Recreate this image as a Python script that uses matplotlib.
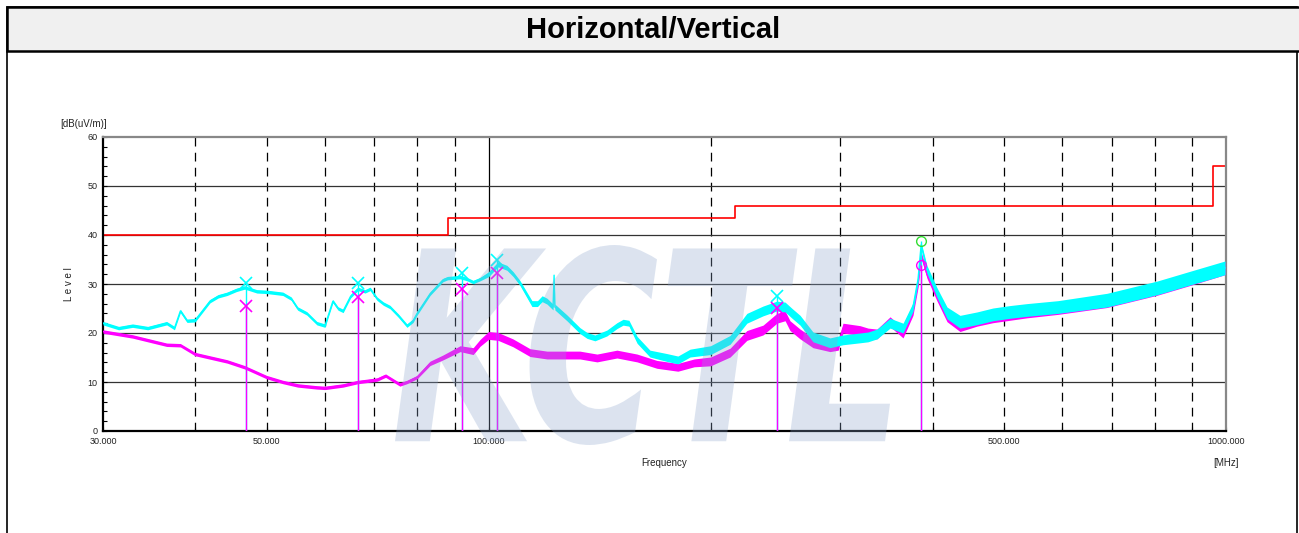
import numpy as np
import matplotlib
matplotlib.use("Agg")
import matplotlib.pyplot as plt
from matplotlib.patches import Rectangle, PathPatch
from matplotlib.textpath import TextPath
from matplotlib.font_manager import FontProperties
from matplotlib.transforms import Affine2D
from matplotlib.ticker import FixedLocator, NullFormatter

W, H = 1299, 533

# limit line
limit_freq = [30, 88, 216, 960, 1000]
limit_level = [40, 43.5, 46, 54, 54]

# cyan trace: frequency [MHz], level [dB(uV/m)], half width of noise band
cyan_freq = [30, 31.5, 32.9, 34.5, 36.6, 37.5, 38.2, 39, 40, 41.9, 43, 44.2, 45.5, 46.7, 48.5,
             50, 52.6, 54, 55.1, 56.7, 58.5, 60, 61.5, 62.5, 63.5, 65, 66.5, 68, 69.1, 70.6,
             72, 73.5, 75.5, 77.5, 79, 80, 83.3, 86.7, 88, 91.5, 93.5, 95.3, 97.4, 100, 103,
             105.9, 108, 110.3, 114.5, 116.5, 118.2, 120, 122.3, 122.7, 123.0, 127.7, 133, 136,
             139.4, 144.7, 149.3, 152.2, 155, 159, 165.5, 174.5, 180.6, 187.6, 200, 212.6, 224,
             235.6, 246, 252.4, 258, 264.5, 275.4, 290.4, 302.4, 318.9, 327, 336.3, 350.3,
             364.8, 376.3, 382.3, 386, 393, 405.7, 418.5, 435.8, 459.6, 483, 509.5, 537.3,
             591.8, 689.7, 806.5, 894, 997]
cyan_level = [22.0, 21.0, 21.5, 21.0, 22.0, 21.0, 24.5, 22.5, 22.6, 26.5, 27.5, 28.0, 28.8, 29.3, 28.5,
              28.4, 28.0, 27.0, 25.0, 24.0, 22.0, 21.5, 26.5, 25.0, 24.5, 27.5, 29.0, 28.5, 29.0, 27.0,
              26.0, 25.3, 23.5, 21.5, 22.5, 24.0, 28.0, 30.8, 31.2, 31.4, 31.0, 30.4, 31.0, 32.0, 34.0,
              33.3, 32.0, 30.2, 26.0, 26.0, 27.0, 26.5, 25.3, 31.8, 25.3, 23.1, 20.5, 19.5,
              19.0, 20.0, 21.5, 22.2, 22.0, 18.6, 15.8, 15.0, 14.5, 15.9, 16.5, 18.6, 23.0,
              24.5, 25.5, 25.3, 24.0, 22.6, 19.2, 18.0, 18.6, 19.0, 19.2, 19.8, 22.0,
              21.0, 25.3, 31.0, 38.0, 33.0, 28.2, 24.1, 22.3, 23.0, 23.8, 24.3, 24.7,
              25.3, 26.7, 29.2, 31.2, 33.3]
cyan_noise = [0.35, 0.35, 0.35, 0.35, 0.35, 0.35, 0.35, 0.35, 0.35, 0.35, 0.35, 0.35, 0.35, 0.35, 0.35,
              0.35, 0.35, 0.35, 0.35, 0.35, 0.35, 0.35, 0.35, 0.35, 0.35, 0.35, 0.35, 0.35, 0.35, 0.35,
              0.35, 0.35, 0.35, 0.35, 0.35, 0.35, 0.35, 0.35, 0.35, 0.35, 0.35, 0.35, 0.35, 0.5, 0.5,
              0.5, 0.5, 0.5, 0.6, 0.6, 0.6, 0.6, 0.6, 0.15, 0.6, 0.6, 0.6, 0.6,
              0.6, 0.6, 0.6, 0.6, 0.6, 0.7, 0.7, 0.8, 0.8, 0.8, 0.9, 0.9, 1.0,
              1.0, 1.0, 1.0, 1.0, 1.0, 1.0, 1.0, 1.0, 1.0, 1.0, 1.0, 1.0,
              1.0, 0.9, 0.7, 0.5, 0.8, 1.0, 1.2, 1.3, 1.3, 1.3, 1.3, 1.3,
              1.3, 1.4, 1.4, 1.4, 1.4]

# magenta trace
mag_freq = [30, 32.9, 36.6, 38.2, 40, 41.9, 44.2, 46.7, 50, 52.6, 55.1, 58.5, 60, 63.5, 66.5,
            70.6, 72.5, 75.8, 77.5, 80, 83.3, 86.7, 91.5, 95.3, 97.4, 100, 103, 107.9, 113.8,
            120, 126.1, 133, 140.3, 149.3, 159, 169.1, 180.6, 190, 200, 212.6, 224, 235.6, 246,
            252.4, 256.3, 264.5, 275.4, 290.4, 298, 302.4, 318.9, 327, 336.3, 350.3, 364.8,
            376.3, 382.3, 386, 393, 405.7, 418.5, 435.8, 459.6, 483, 509.5, 537.3, 591.8,
            689.7, 806.5, 894, 997]
mag_level = [20.3, 19.3, 17.6, 17.5, 15.7, 15.0, 14.2, 13.0, 11.0, 10.0, 9.3, 8.9, 8.8, 9.3, 10.0,
             10.5, 11.3, 9.5, 10.0, 11.0, 13.8, 15.0, 16.8, 16.3, 18.0, 19.5, 19.3, 18.0, 16.0,
             15.5, 15.5, 15.5, 14.9, 15.7, 14.9, 13.6, 13.0, 13.9, 14.2, 16.0, 19.5, 20.6, 23.0,
             23.5, 21.5, 19.8, 18.0, 17.2, 17.5, 21.0, 20.5, 20.0, 19.8, 22.3, 20.0,
             24.5, 30.0, 36.0, 32.0, 27.5, 23.5, 21.5, 22.6, 23.3, 23.8, 24.3, 25.0,
             26.5, 29.0, 31.0, 33.2]
mag_noise = [0.35, 0.35, 0.35, 0.35, 0.35, 0.35, 0.35, 0.35, 0.35, 0.35, 0.35, 0.35, 0.35, 0.35, 0.35,
             0.35, 0.35, 0.35, 0.35, 0.35, 0.45, 0.5, 0.6, 0.7, 0.7, 0.8, 0.8, 0.8, 0.8,
             0.8, 0.8, 0.8, 0.8, 0.8, 0.8, 0.8, 0.8, 0.8, 0.9, 0.9, 1.0, 1.0, 1.0,
             1.0, 1.0, 1.0, 1.0, 1.0, 1.0, 1.0, 1.0, 1.0, 1.0, 1.0, 1.0,
             0.9, 0.7, 0.5, 0.8, 1.0, 1.2, 1.2, 1.2, 1.2, 1.2, 1.2, 1.2,
             1.3, 1.3, 1.3, 1.3]

# peak markers
mark_freq = [46.9, 66.5, 92.0, 102.6, 246.0]
mark_cyan = [30.2, 30.2, 32.2, 34.9, 27.6]
mark_mag = [25.5, 27.3, 29.0, 32.2, 25.1]
peak_freq = 386.0
peak_cyan = 38.8
peak_mag = 33.9

xtick_vals = [30, 50, 100, 500, 1000]
xtick_labels = ["30.000", "50.000", "100.000", "500.000", "1000.000"]
dashed_grid = [40, 50, 60, 70, 80, 90, 200, 300, 400, 500, 600, 700, 800, 900]

CYAN = "#00ffff"
MAG = "#ff00ff"

fig = plt.figure(figsize=(W / 100, H / 100), dpi=100)
fig.patch.set_facecolor("white")

# outer frame and title bar
fig.add_artist(Rectangle((7 / W, -0.05), (1297 - 7) / W, 1.05 - 7 / H,
                         transform=fig.transFigure, fill=False, ec="black", lw=1.2))
fig.add_artist(Rectangle((7 / W, (H - 51) / H), 1.1, 44 / H, transform=fig.transFigure,
                         fc="#f0f0f0", ec="black", lw=1.8))
fig.text(653 / W, (H - 30) / H, "Horizontal/Vertical", ha="center", va="center",
         fontsize=21, fontweight="bold", family="Liberation Sans")

ax = fig.add_axes([103 / W, (H - 431) / H, (1226 - 103) / W, (431 - 137) / H])
ax.set_xscale("log")
ax.set_xlim(30, 1000)
ax.set_ylim(0, 60)

for f in dashed_grid:
    ax.axvline(f, color="black", lw=0.9, dashes=(7, 5), zorder=1)
ax.axvline(100, color="black", lw=0.9, zorder=1)
for lv in range(10, 60, 10):
    ax.axhline(lv, color="#333333", lw=0.9, zorder=1)

ax.step(limit_freq, limit_level, where="post", color="red", lw=1.2, zorder=2)


def draw_trace(freq, level, noise, color, z):
    f = np.array(freq)
    lv = np.array(level)
    n = np.array(noise)
    ax.fill_between(f, lv - n, lv + n, color=color, lw=0, zorder=z)
    ax.plot(f, lv, color=color, lw=1.0, zorder=z)


draw_trace(mag_freq, mag_level, mag_noise, MAG, 3)
draw_trace(cyan_freq, cyan_level, cyan_noise, CYAN, 4)

# markers
ax.vlines(mark_freq, 0, mark_cyan, color=CYAN, lw=1, zorder=5)
ax.vlines(mark_freq, 0, mark_mag, color=MAG, lw=1, zorder=6)
ax.vlines([peak_freq], 0, [peak_cyan], color=CYAN, lw=1, zorder=5)
ax.vlines([peak_freq], 0, [peak_mag], color=MAG, lw=1, zorder=6)
ax.plot(mark_freq, mark_cyan, "x", color=CYAN, ms=8, mew=1.2, zorder=7)
ax.plot(mark_freq, mark_mag, "x", color=MAG, ms=8, mew=1.2, zorder=7)
ax.plot([peak_freq], [peak_cyan], "o", mfc="none", mec="#33dd33", ms=7, mew=1, zorder=7)
ax.plot([peak_freq], [peak_mag], "o", mfc="none", mec=MAG, ms=7, mew=1, zorder=7)

# axes styling
for s in ["left", "bottom"]:
    ax.spines[s].set_color("black")
    ax.spines[s].set_linewidth(1.6)
for s in ["top", "right"]:
    ax.spines[s].set_color("#888888")
    ax.spines[s].set_linewidth(1.6)

tick_font = dict(family="Liberation Sans", size=6.5, color="#222222")
ax.xaxis.set_major_locator(FixedLocator(xtick_vals))
ax.set_xticklabels(xtick_labels, **tick_font)
ax.xaxis.set_minor_locator(FixedLocator(dashed_grid))
ax.xaxis.set_minor_formatter(NullFormatter())
ax.set_yticks(range(0, 61, 10))
ax.set_yticklabels([str(v) for v in range(0, 61, 10)], **tick_font)
ax.set_yticks(range(0, 61, 2), minor=True)
ax.tick_params(which="both", direction="in", length=3, width=0.8, color="black", pad=4)

fig.text(664 / W, (H - 463) / H, "Frequency", ha="center", va="center",
         family="Liberation Sans", size=7, color="#222222")
fig.text(1226 / W, (H - 463) / H, "[MHz]", ha="center", va="center",
         family="Liberation Sans", size=7, color="#222222")
fig.text(60 / W, (H - 124) / H, "[dB(uV/m)]", ha="left", va="center",
         family="Liberation Sans", size=7, color="#222222")
fig.text(69 / W, (H - 284) / H, "L e v e l", ha="center", va="center", rotation=90,
         family="Liberation Sans", size=7, color="#222222")

# translucent watermark over the plot
tp = TextPath((0, 0), "KCTL", size=100,
              prop=FontProperties(family="DejaVu Sans", weight="bold", style="italic"))
bb = tp.get_extents()
tr = (Affine2D().translate(-bb.x0, -bb.y0)
      .scale(495 / bb.width, 200 / bb.height)
      .translate(395, H - 445)
      .scale(1 / W, 1 / H)) + fig.transFigure
wm = PathPatch(tp, transform=tr, fc="#8ca5cd", ec="none", alpha=0.3, zorder=10)
fig.add_artist(wm)

fig.savefig("out.png", dpi=100)
